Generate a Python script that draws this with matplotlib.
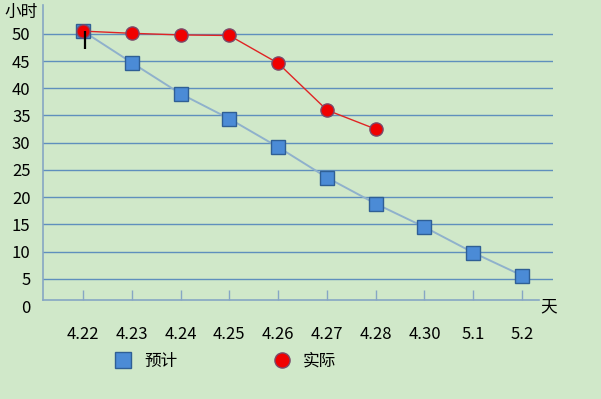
import numpy as np
import matplotlib
matplotlib.use("Agg")
import matplotlib.pyplot as plt

plt.rcParams['font.family'] = ['Noto Sans CJK SC', 'DejaVu Sans']

# ---- data -------------------------------------------------------------
days = ["4.22", "4.23", "4.24", "4.25", "4.26", "4.27", "4.28", "4.30", "5.1", "5.2"]
planned = [50.5, 44.7, 39.0, 34.4, 29.2, 23.6, 18.8, 14.5, 9.8, 5.6]
actual = [50.5, 50.1, 49.8, 49.7, 44.6, 36.0, 32.5]
yticks = [5, 10, 15, 20, 25, 30, 35, 40, 45, 50]

BG = "#d0e8c9"
GRID = "#5f8fbd"
AXIS = "#86a6c4"
FS = 12

fig = plt.figure(figsize=(6.01, 3.99), dpi=100, facecolor=BG)
ax = fig.add_axes([43 / 601, 99 / 399, 510 / 601, 295 / 399], facecolor=BG)

x = np.arange(len(days))
ax.plot(x, planned, color="#8fb1cc", lw=1.4, marker="s", ms=9.5,
        mfc="#4b8bd6", mec="#2f5f95", mew=1.0, label="预计", zorder=3)
ax.plot(x[:len(actual)], actual, color="#e02424", lw=1.0, marker="o", ms=9.5,
        mfc="#f00000", mec="#7a4a6a", mew=1.0, label="实际", zorder=4)
# little black cursor mark under the first point
ax.errorbar(x[0] + 0.05, actual[0], yerr=[[3.2], [0]], fmt="none",
            ecolor="black", elinewidth=1.6, capsize=0, zorder=5)

ax.set_xlim(-0.82, 9.635)
ax.set_ylim(1.1, 55.3)

ax.set_yticks(yticks)
ax.set_yticklabels([str(v) for v in yticks], fontsize=FS)
ax.tick_params(axis="y", length=0, pad=9)
ax.yaxis.grid(True, color=GRID, lw=1.0)
ax.set_axisbelow(True)
# the 0 label sits under the axis line, outside the view limits
ax.annotate("0", xy=(0, -0.4), xycoords=ax.get_yaxis_transform(),
            xytext=(-9, 0), textcoords="offset points",
            fontsize=FS, ha="right", va="center", annotation_clip=False)

ax.set_xticks(x)
ax.set_xticklabels(days, fontsize=FS)
ax.tick_params(axis="x", direction="in", length=7.5, width=1.0,
               color=AXIS, pad=19)

for side in ("top", "right"):
    ax.spines[side].set_visible(False)
ax.spines["left"].set_color(AXIS)
ax.spines["bottom"].set_color(AXIS)
ax.spines["left"].set_linewidth(1.2)
ax.spines["bottom"].set_linewidth(1.2)
ax.spines["bottom"].set_bounds(-0.82, 9.35)

fig.text(21 / 601, 1 - 12 / 399, "小时", fontsize=12, ha="center", va="center")
fig.text(549 / 601, 1 - 307 / 399, "天", fontsize=12, ha="center", va="center")

leg = fig.legend(loc="center left", bbox_to_anchor=(100 / 601, 1 - 361 / 399),
                 ncol=2, frameon=False, fontsize=FS, handlelength=1.0,
                 handletextpad=0.75, columnspacing=5.8, numpoints=1,
                 markerscale=1.15)
for h in leg.legend_handles:
    h.set_linestyle("none")

fig.savefig("out.png", dpi=100, facecolor=BG)
